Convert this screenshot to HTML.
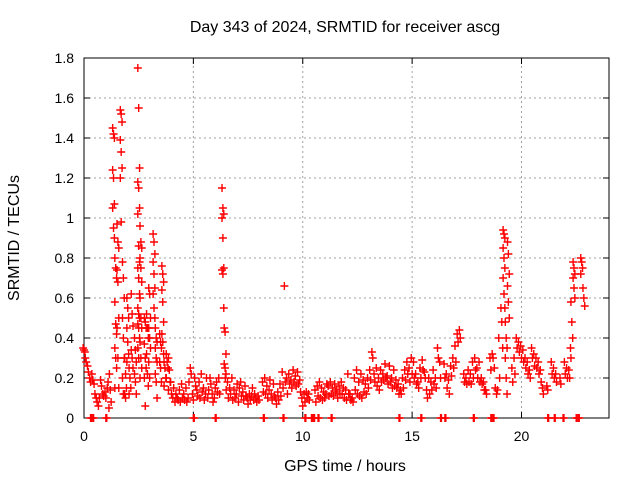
<!DOCTYPE html>
<html><head><meta charset="utf-8"><style>
body{margin:0;background:#fff}
svg{display:block;font-family:"Liberation Sans",sans-serif}
</style></head><body>
<svg id="chart" width="640" height="480" viewBox="0 0 640 480">
<rect width="640" height="480" fill="#fff"/>
<g id="grid"></g>
<g id="axes"></g>
<g id="marks"></g>
<text x="345" y="32" text-anchor="middle" font-size="16">Day 343 of 2024, SRMTID for receiver ascg</text>
<text x="345" y="471" text-anchor="middle" font-size="16">GPS time / hours</text>
<text transform="translate(19,238) rotate(-90)" text-anchor="middle" font-size="16">SRMTID / TECUs</text>
</svg>
<script>
const xTicks=[0,5,10,15,20];
const yTicks=[0,0.2,0.4,0.6,0.8,1,1.2,1.4,1.6,1.8];
const yTickLabels=["0","0.2","0.4","0.6","0.8","1","1.2","1.4","1.6","1.8"];
const sampleTimes=[0.0,0.1,0.2,0.3,0.4,0.5,0.6,0.7,0.8,0.9,1.0,1.1,1.2,1.35,1.45,1.55,1.7,1.8,1.9,2.0,2.1,2.2,2.35,2.5,2.6,2.8,2.9,3.0,3.2,3.3,3.5,3.6,3.7,3.8,3.9,
4.0,4.1,4.2,4.3,4.4,4.5,4.6,4.7,4.8,4.9,5.0,5.1,5.2,5.3,5.4,5.5,5.6,5.7,5.8,5.9,6.0,6.1,6.2,6.35,6.45,6.5,6.6,6.7,6.8,6.9,7.0,7.1,7.2,7.3,7.4,7.5,7.6,7.7,7.8,7.9,8.0,8.2,8.3,8.4,8.5,8.6,8.7,8.8,8.9,9.0,9.1,9.2,9.3,9.4,9.5,9.6,9.7,9.8,9.9,
10.0,10.1,10.2,10.3,10.6,10.7,10.8,10.9,11.0,11.1,11.2,11.3,11.4,11.5,11.6,11.7,11.8,11.9,12.0,12.1,12.2,12.3,12.4,12.5,12.6,12.7,12.8,12.9,13.0,13.1,13.2,13.3,13.4,13.5,13.6,13.7,13.8,13.9,14.0,14.1,14.2,14.3,14.4,14.5,14.6,14.7,14.8,14.9,
15.0,15.1,15.2,15.3,15.4,15.5,15.6,15.7,15.8,15.9,16.0,16.1,16.2,16.3,16.5,16.6,16.7,16.8,16.9,17.0,17.1,17.2,17.4,17.5,17.6,17.7,17.8,17.9,18.0,18.1,18.2,18.3,18.4,18.6,18.7,18.8,18.9,19.0,19.1,19.2,19.3,19.4,19.6,19.7,19.8,19.9,
20.0,20.1,20.2,20.3,20.4,20.5,20.6,20.7,20.8,20.9,21.0,21.2,21.4,21.5,21.6,21.8,22.0,22.1,22.2,22.3,22.4,22.75,22.85];
const sampleValues=[[0.35,0.34,0.33],[0.30,0.28],[0.26,0.23],[0.20,0.18],[0.22,0.19],[0.17,0.12],[0.10,0.08],[0.06,0.10],[0.19,0.16],[0.12,0.11],[0.13,0.10],[0.15,0.18,0.05],[0.22,0.14,0.08],
[1.45,1.42,1.40,1.24,1.20,1.07,1.05,0.95,0.90],[0.80,0.75,0.70,0.58,0.47,0.42,0.35,0.30,0.25,0.15],[0.97,0.88,0.85,0.74,0.68,0.50,0.45,0.30,0.15],[1.54,1.52,1.48,1.39,1.33,1.25,1.20,0.98],[0.78,0.70,0.60,0.50,0.40,0.30,0.20,0.12],[0.30,0.22,0.15,0.12,0.10],[0.60,0.55,0.50,0.45,0.38,0.32,0.28],[0.25,0.20,0.15,0.12],[0.62,0.52,0.46,0.34,0.30,0.25],[0.40,0.34,0.28,0.22,0.18,0.12],
[1.75,1.55,1.25,1.18,1.15,1.05,1.02,0.86,0.78,0.75,0.70,0.62,0.55,0.52,0.50,0.47,0.45,0.40,0.35,0.30],[0.96,0.88,0.85,0.80,0.75,0.68,0.60,0.50,0.45,0.38,0.30,0.25,0.20],[0.50,0.48,0.45,0.37,0.30,0.25,0.20,0.06],[0.52,0.45,0.40,0.32,0.22,0.16],[0.65,0.62,0.50,0.45,0.40,0.35,0.28,0.20],
[0.92,0.88,0.82,0.78,0.72,0.65,0.62,0.55,0.50],[0.45,0.40,0.38,0.35,0.30,0.28,0.22,0.18,0.10],[0.42,0.38,0.35,0.28,0.25,0.18],[0.76,0.72,0.68,0.64,0.58,0.48,0.42,0.38,0.32],[0.28,0.25,0.20,0.16],[0.32,0.28,0.25,0.20],[0.30,0.24,0.18,0.14],
[0.18,0.12],[0.10,0.15],[0.08,0.12],[0.10,0.09],[0.14,0.08],[0.17,0.10],[0.12,0.09],[0.15,0.08],[0.10,0.18],[0.25,0.22],[0.12,0.09],[0.20,0.16],[0.14,0.11],[0.18,0.10],[0.22,0.13],[0.15,0.09],[0.12,0.20],[0.10,0.14],[0.20,0.17],[0.12,0.08],[0.10,0.15],[0.18,0.13],[0.20,0.12],
[1.15,1.05,1.02,1.00,0.90,0.75,0.74,0.72,0.55],[0.45,0.43,0.32,0.27,0.25,0.22],[0.20,0.14],[0.18,0.10],[0.15,0.12],[0.20,0.09],[0.14,0.10],[0.12,0.17],[0.08,0.15],[0.18,0.11],[0.13,0.09],[0.16,0.11],[0.10,0.07],[0.12,0.09],[0.11,0.15],[0.09,0.12],[0.10,0.08],[0.11,0.09],[0.18,0.13],[0.20,0.12],[0.16,0.10],[0.14,0.19],[0.12,0.09],[0.17,0.11],[0.10,0.07],[0.13,0.09],[0.17,0.11],[0.23,0.15],[0.66,0.18],[0.20,0.12],[0.22,0.17],[0.19,0.15],[0.24,0.18],[0.21,0.16],[0.23,0.17],[0.19,0.13],
[0.10,0.06],[0.12,0.08],[0.13,0.10],[0.12,0.09],[0.14,0.08],[0.16,0.11],[0.18,0.10],[0.15,0.09],[0.13,0.10],[0.12,0.17],[0.16,0.11],[0.18,0.12],[0.15,0.11],[0.17,0.13],[0.14,0.10],[0.16,0.12],[0.18,0.12],[0.15,0.10],[0.14,0.09],[0.22,0.12],[0.12,0.09],[0.10,0.08],[0.20,0.14],[0.24,0.12],[0.18,0.11],[0.22,0.10],[0.19,0.13],[0.17,0.12],[0.20,0.15],[0.24,0.19],[0.33,0.30],[0.22,0.18],[0.25,0.16],[0.20,0.14],[0.24,0.18],[0.22,0.19],[0.27,0.20],[0.21,0.17],[0.26,0.18],[0.20,0.15],[0.24,0.16],[0.19,0.15],[0.17,0.12],[0.14,0.12],[0.20,0.15],[0.24,0.19],[0.28,0.22],[0.25,0.18],
[0.30,0.22],[0.28,0.20],[0.22,0.17],[0.18,0.15],[0.25,0.20],[0.29,0.24],[0.23,0.20],[0.14,0.10],[0.20,0.12],[0.18,0.14],[0.24,0.17],[0.20,0.15],[0.35,0.30],[0.28,0.20],[0.27,0.20],[0.22,0.15],[0.19,0.12],[0.26,0.21],[0.30,0.25],[0.36,0.28],[0.42,0.38],[0.44,0.40],[0.22,0.18],[0.20,0.17],[0.24,0.18],[0.22,0.17],[0.28,0.20],[0.30,0.24],[0.25,0.20],[0.28,0.18],[0.20,0.17],[0.18,0.14],[0.14,0.12],[0.30,0.24],[0.32,0.30],[0.25,0.15],[0.12,0.14],[0.40,0.20],[0.55,0.48,0.35],
[0.94,0.92,0.90,0.85,0.80,0.75,0.70,0.62,0.55],[0.48,0.40,0.35,0.30,0.20,0.12],[0.88,0.82,0.72,0.66,0.58,0.50],[0.25,0.18],[0.30,0.22],[0.40,0.35],[0.38,0.33],[0.36,0.30],[0.34,0.28],[0.30,0.25],[0.28,0.22],[0.24,0.20],[0.35,0.30],[0.32,0.26],[0.30,0.25],[0.28,0.22],[0.24,0.18],[0.15,0.12],[0.16,0.14],[0.28,0.22],[0.25,0.20],[0.22,0.18],[0.20,0.17],[0.28,0.22],[0.25,0.20],[0.24,0.20,0.35],
[0.58,0.48,0.40,0.30],[0.78,0.75,0.72,0.70,0.65,0.60],[0.80,0.78,0.75,0.72],[0.65,0.60,0.56]];
const zeroTimes=[0.3,0.4,1.0,5.0,6.0,8.2,9.1,10.1,10.4,10.5,10.7,11.3,14.4,15.4,16.3,16.5,17.8,18.6,18.7,21.2,21.5,21.9,22.5,22.6];

const X0=84,X1=609,Y0=418,Y1=58,XMAX=24,YMAX=1.8;
function xs(t){return X0+(X1-X0)*t/XMAX;}
function ys(v){return Y0-(Y0-Y1)*v/YMAX;}
const NS="http://www.w3.org/2000/svg";
function mk(tag,attrs,parent){const e=document.createElementNS(NS,tag);for(const k in attrs)e.setAttribute(k,attrs[k]);parent.appendChild(e);return e;}
const grid=document.getElementById('grid'),axes=document.getElementById('axes'),marks=document.getElementById('marks');
xTicks.forEach(t=>{const x=xs(t);
 if(t>0){const g=mk('line',{x1:x,y1:Y0,x2:x,y2:Y1,stroke:'#a0a0a0','stroke-dasharray':'2,3'},grid);
 
 }
 mk('line',{x1:x,y1:Y0,x2:x,y2:Y0-6,stroke:'#000'},axes);
 mk('line',{x1:x,y1:Y1,x2:x,y2:Y1+6,stroke:'#000'},axes);
 const l=mk('text',{x:x,y:Y0+23,'text-anchor':'middle','font-size':'14'},axes);l.textContent=t;
 
 
});
yTicks.forEach((v,i)=>{const y=ys(v);
 if(v>0&&v<YMAX){const g=mk('line',{x1:X0,y1:y,x2:X1,y2:y,stroke:'#a0a0a0','stroke-dasharray':'2,3'},grid);
 
 }
 mk('line',{x1:X0,y1:y,x2:X0+6,y2:y,stroke:'#000'},axes);
 mk('line',{x1:X1,y1:y,x2:X1-6,y2:y,stroke:'#000'},axes);
 const l=mk('text',{x:X0-10,y:y+5,'text-anchor':'end','font-size':'14'},axes);l.textContent=yTickLabels[i];
 
 
});
mk('rect',{x:X0,y:Y1,width:X1-X0,height:Y0-Y1,fill:'none',stroke:'#000'},axes);
function plus(t,v){const x=xs(t),y=ys(v);
 const p=mk('path',{d:`M${x-4},${y}h8M${x},${y-4}v8`,stroke:'#f00','stroke-width':'1.4',fill:'none'},marks);
 
 
}
sampleTimes.forEach((t,i)=>{const vals=sampleValues[i]||[];vals.forEach((v,j)=>plus(t+(j%3-1)*0.04,v));});
zeroTimes.forEach(t=>{plus(t,0);plus(t+0.04,0);});
</script>
</body></html>
